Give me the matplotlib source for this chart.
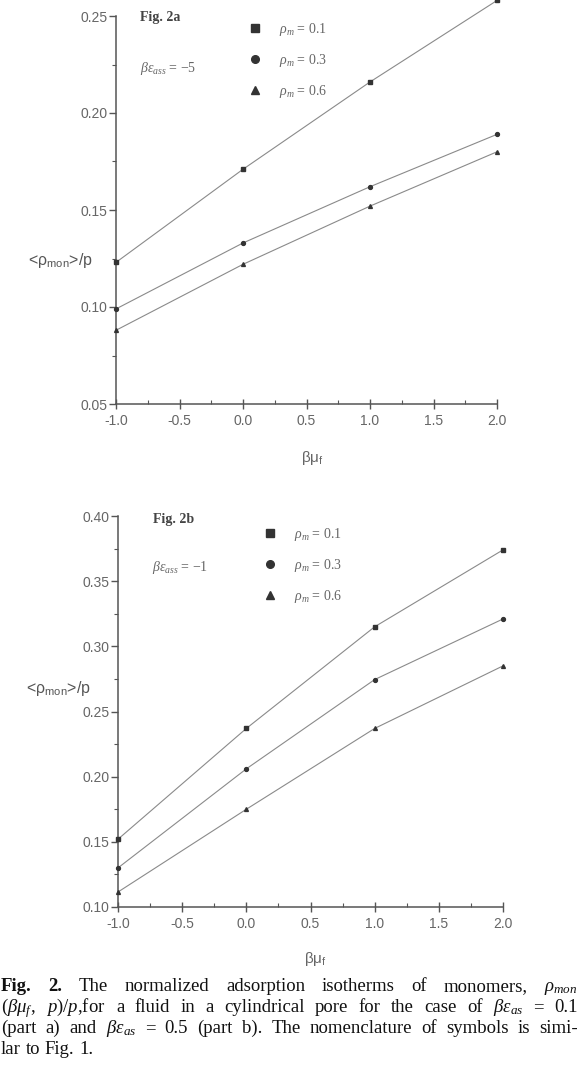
import matplotlib
matplotlib.use("Agg")
import matplotlib.pyplot as plt
from matplotlib.lines import Line2D
from matplotlib.ticker import MultipleLocator, FormatStrFormatter

plt.rcParams['axes.unicode_minus'] = False
plt.rcParams['mathtext.fontset'] = 'custom'
plt.rcParams['mathtext.rm'] = 'Liberation Serif'
plt.rcParams['mathtext.it'] = 'Liberation Serif:italic'
plt.rcParams['mathtext.bf'] = 'Liberation Serif:bold'
plt.rcParams['font.family'] = ['Liberation Sans', 'DejaVu Sans']

# ---------------- data ----------------
beta_mu = [-1.0, 0.0, 1.0, 2.0]
rho_labels = ["0.1", "0.3", "0.6"]
markers = ['s', 'o', '^']

# Fig. 2a
a_rho01 = [0.123, 0.171, 0.216, 0.258]
a_rho03 = [0.099, 0.133, 0.162, 0.189]
a_rho06 = [0.088, 0.122, 0.152, 0.180]
# Fig. 2b
b_rho01 = [0.152, 0.237, 0.315, 0.374]
b_rho03 = [0.130, 0.206, 0.2745, 0.321]
b_rho06 = [0.1115, 0.175, 0.237, 0.285]

W, H = 580, 1066
fig = plt.figure(figsize=(W / 100, H / 100), dpi=100)
fig.patch.set_facecolor('white')

AX_COL = '#555555'
LINE_COL = '#8a8a8a'
MK_COL = '#333333'
TXT_COL = '#666666'


def px_rect(l, r, b, t):
    return [l / W, 1 - b / H, (r - l) / W, (b - t) / H]


def style_axes(ax, ylim, ymaj, ymin):
    ax.set_xlim(-1.0, 2.0)
    ax.set_ylim(*ylim)
    for s in ['top', 'right']:
        ax.spines[s].set_visible(False)
    for s in ['left', 'bottom']:
        ax.spines[s].set_color(AX_COL)
        ax.spines[s].set_linewidth(1.1)
    ax.xaxis.set_major_locator(MultipleLocator(0.5))
    ax.xaxis.set_minor_locator(MultipleLocator(0.25))
    ax.yaxis.set_major_locator(MultipleLocator(ymaj))
    ax.yaxis.set_minor_locator(MultipleLocator(ymin))
    ax.xaxis.set_major_formatter(FormatStrFormatter('%.1f'))
    ax.yaxis.set_major_formatter(FormatStrFormatter('%.2f'))
    ax.tick_params(axis='y', which='major', direction='out', length=5, width=1,
                   color=AX_COL, labelcolor=TXT_COL, labelsize=10, pad=1)
    ax.tick_params(axis='y', which='minor', direction='out', length=3, width=0.8,
                   color=AX_COL)
    ax.tick_params(axis='x', which='major', direction='inout', length=7, width=1,
                   color=AX_COL, labelcolor=TXT_COL, labelsize=10, pad=4)
    ax.tick_params(axis='x', which='minor', direction='in', length=3, width=0.8,
                   color=AX_COL)


def draw_panel(rect, series, ylim, ymaj, ymin, fig_label, eps_text,
               leg_anchor, ylab_xy, xlab_xy, fig_xy, eps_xy):
    ax = fig.add_axes(rect)
    style_axes(ax, ylim, ymaj, ymin)
    for ys, m in zip(series, markers):
        ax.plot(beta_mu, ys, color=LINE_COL, lw=0.8, clip_on=False, zorder=2)
        ax.plot(beta_mu, ys, linestyle='none', marker=m, ms=2.8,
                color=MK_COL, clip_on=False, zorder=3)
    handles = [Line2D([], [], linestyle='none', marker=m, ms=5.5, color=MK_COL)
               for m in markers]
    labels = [r"$\rho_m$ = " + r for r in rho_labels]
    leg = ax.legend(handles, labels, loc='upper left', frameon=False,
                    bbox_to_anchor=(leg_anchor[0] / W, 1 - leg_anchor[1] / H),
                    bbox_transform=fig.transFigure, borderaxespad=0,
                    borderpad=0, handlelength=1.0, handletextpad=1.2,
                    labelspacing=1.02,
                    prop={'family': 'Liberation Serif', 'size': 10})
    for t in leg.get_texts():
        t.set_color(TXT_COL)
    fig.text(fig_xy[0] / W, 1 - fig_xy[1] / H, fig_label,
             family='Liberation Serif', weight='bold', size=10,
             color='#444444', va='center', ha='left')
    fig.text(eps_xy[0] / W, 1 - eps_xy[1] / H, eps_text,
             family='Liberation Serif', size=10, color=TXT_COL,
             va='center', ha='left')
    fig.text(ylab_xy[0] / W, 1 - ylab_xy[1] / H,
             r"<ρ$_{\mathregular{mon}}$>/p", family='Liberation Sans',
             size=11.5, color='#555555', va='center', ha='right')
    fig.text(xlab_xy[0] / W, 1 - xlab_xy[1] / H,
             r"βμ$_{\mathregular{f}}$", family='Liberation Sans',
             size=11, color='#666666', va='center', ha='center')
    return ax


draw_panel(px_rect(116, 497, 404, 16),
           [a_rho01, a_rho03, a_rho06], (0.05, 0.25), 0.05, 0.025,
           "Fig. 2a", r"$\beta\varepsilon_{ass}$ = $-$5",
           leg_anchor=(248, 21), ylab_xy=(93, 260), xlab_xy=(312, 458),
           fig_xy=(140, 17), eps_xy=(140, 69))

draw_panel(px_rect(118, 503, 907, 516),
           [b_rho01, b_rho03, b_rho06], (0.10, 0.40), 0.05, 0.025,
           "Fig. 2b", r"$\beta\varepsilon_{ass}$ = $-$1",
           leg_anchor=(263, 526), ylab_xy=(91, 688), xlab_xy=(315, 959),
           fig_xy=(153, 520), eps_xy=(152, 568))

# ---------------- caption (justified) ----------------
CAP_FS = 13.5
caption_lines = [
    [("Fig.", 'bold'), ("2.", 'bold'), ("The", None), ("normalized", None),
     ("adsorption", None), ("isotherms", None), ("of", None),
     ("monomers,", None), (r"$\rho_{mon}$", None)],
    [(r"($\beta\mu_f$,", None), (r"$p$)/$p$,for", None), ("a", None),
     ("fluid", None), ("in", None), ("a", None), ("cylindrical", None),
     ("pore", None), ("for", None), ("the", None), ("case", None),
     ("of", None), (r"$\beta\varepsilon_{as}$", None), ("=", None),
     ("0.1", None)],
    [("(part", None), ("a)", None), ("and", None),
     (r"$\beta\varepsilon_{as}$", None), ("=", None), ("0.5", None),
     ("(part", None), ("b).", None), ("The", None), ("nomenclature", None),
     ("of", None), ("symbols", None), ("is", None), ("simi-", None)],
    [("lar", None), ("to", None), ("Fig.", None), ("1.", None)],
]
baselines = [991, 1012, 1033, 1054]
x0, x1 = 1, 578

renderer = fig.canvas.get_renderer()
for li, (words, yb) in enumerate(zip(caption_lines, baselines)):
    texts = []
    widths = []
    for w, wt in words:
        t = fig.text(0, 1 - yb / H, w, family='Liberation Serif',
                     size=CAP_FS, weight=wt if wt else 'normal',
                     color='#111111', va='baseline', ha='left')
        texts.append(t)
        widths.append(t.get_window_extent(renderer).width)
    total = sum(widths)
    if li < len(caption_lines) - 1:
        gap = (x1 - x0 - total) / (len(words) - 1)
    else:
        gap = CAP_FS * 100 / 72 * 0.25
    x = x0
    for t, wd in zip(texts, widths):
        t.set_x(x / W)
        x += wd + gap

fig.savefig("out.png", dpi=100, facecolor='white')
